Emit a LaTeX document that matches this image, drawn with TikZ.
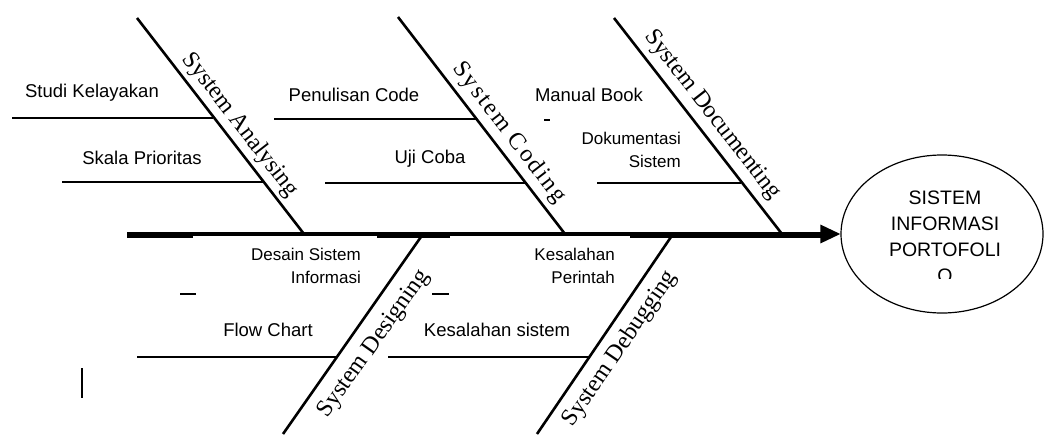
\documentclass[tikz,border=0pt]{standalone}
\usepackage{fontspec}
\newfontfamily\lsans{Liberation Sans}
\newfontfamily\lserif{Liberation Serif}
\newfontfamily\lserifsp[LetterSpace=9]{Liberation Serif}
\usetikzlibrary{arrows.meta,shapes.geometric}
\begin{document}
\begin{tikzpicture}[x=1pt,y=-1pt,
  bone/.style={line width=2.6pt},
  twig/.style={line width=1.3pt},
  stray/.style={line width=1.4pt},
  lbl/.style={font=\lsans\fontsize{18.5}{22}\selectfont, inner sep=0pt},
  lbltwo/.style={font=\lsans\fontsize{17}{23}\selectfont, inner sep=0pt, align=right, anchor=east},
  bonelbl/.style={font=\lserif\fontsize{24}{28}\selectfont, inner sep=0pt},
  goalbox/.style={ellipse, draw, line width=1.2pt, minimum width=202pt, minimum height=158pt, inner sep=0pt},
  goaltxt/.style={font=\lsans\fontsize{19.5}{26}\selectfont, align=center, inner sep=0pt}
]
\useasboundingbox (0,0) rectangle (1044,434);

% head
\node[goalbox] (goal) at (942,234) {};
\node[goaltxt] (goaltext) at (945,224) {SISTEM\\INFORMASI\\PORTOFOLI};
\begin{scope}
  \clip (900,262) rectangle (990,278);
  \node[goaltxt] (goalO) at (945,276) {O};
\end{scope}

% spine
\coordinate (tail) at (127,234);
\draw[line width=5pt] (127,235) -- (193,235);
\draw[line width=5pt] (377,235) -- (450,235);
\draw[line width=5pt] (630,235) -- (822,235);
\draw[line width=3.2pt, -{Triangle[length=20pt,width=18pt]}] (tail) -- (goal.west);

% bones
\coordinate (A1) at (137,18);  \coordinate (A2) at (304,234);
\coordinate (C1) at (398,17);  \coordinate (C2) at (565,234);
\coordinate (D1) at (614,18);  \coordinate (D2) at (782,234);
\coordinate (G1) at (423,234); \coordinate (G2) at (283,434);
\coordinate (B1) at (673,234); \coordinate (B2) at (537,434);
\draw[bone] (A1) -- (A2);
\draw[bone] (C1) -- (C2);
\draw[bone] (D1) -- (D2);
\draw[bone] (G1) -- (G2);
\draw[bone] (B1) -- (B2);

% sub-bones
\coordinate (sk1) at (12,118);  \coordinate (sk2) at (213,118);
\coordinate (sp1) at (62,182);  \coordinate (sp2) at (263,182);
\coordinate (pc1) at (274,119); \coordinate (pc2) at (476,119);
\coordinate (uc1) at (325,183); \coordinate (uc2) at (525,183);
\coordinate (dk1) at (597,183); \coordinate (dk2) at (741,183);
\coordinate (fc1) at (137,357); \coordinate (fc2) at (337,357);
\coordinate (ks1) at (388,357); \coordinate (ks2) at (589,357);
\draw[twig] (sk1) -- (sk2);
\draw[twig] (sp1) -- (sp2);
\draw[twig] (pc1) -- (pc2);
\draw[twig] (uc1) -- (uc2);
\draw[twig] (dk1) -- (dk2);
\draw[twig] (fc1) -- (fc2);
\draw[twig] (ks1) -- (ks2);

% stray marks
\draw[stray] (544,120) -- (550,120);
\draw[stray] (180,294) -- (196,294);
\draw[stray] (432,294) -- (449,294);
\draw[line width=1.8pt] (82,368) -- (82,398);

% labels
\node[lbl] (t1) at (92,93) {Studi Kelayakan};
\node[lbl] (t2) at (142,158) {Skala Prioritas};
\node[lbl] (t3) at (354,95) {Penulisan Code};
\node[lbl] (t4) at (430,159) {Uji Coba};
\node[lbl] (t5) at (589,95) {Manual Book};
\node[lbltwo] (t6) at (681,150) {Dokumentasi\\Sistem};
\node[lbltwo] (t7) at (361,266) {Desain Sistem\\Informasi};
\node[lbl] (t8) at (268,330) {Flow Chart};
\node[lbl] (t9) at (497,330) {Kesalahan sistem};
\node[lbltwo] (t10) at (615,266) {Kesalahan\\Perintah};

% bone labels
\node[bonelbl, rotate=-52.3] (n1) at (240,125) {System Analysing};
\node[bonelbl, font=\lserifsp\fontsize{24}{28}\selectfont, rotate=-52.4] (n2) at (509,133) {System Coding};
\node[bonelbl, rotate=-52.1] (n3) at (712,115) {System Documenting};
\node[bonelbl, rotate=54.7] (n4) at (374,344) {System Designing};
\node[bonelbl, rotate=55.5] (n5) at (620,349) {System Debugging};
\end{tikzpicture}
\end{document}
